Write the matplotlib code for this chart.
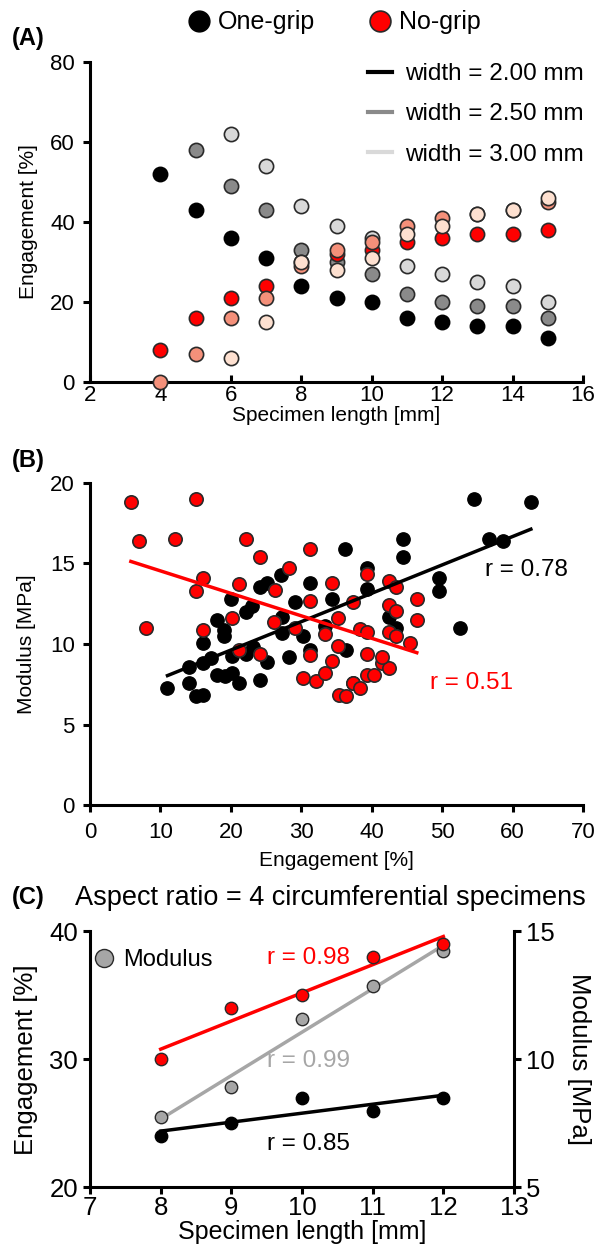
import numpy as np
import matplotlib
matplotlib.use("Agg")
import matplotlib.pyplot as plt
from matplotlib.lines import Line2D

plt.rcParams['font.family'] = ['Liberation Sans', 'DejaVu Sans']

# ---------------- Panel A: engagement vs specimen length ----------------
length_a = [4, 5, 6, 7, 8, 9, 10, 11, 12, 13, 14, 15]
nan = np.nan
one_grip_w200 = [52, 43, 36, 31, 24, 21, 20, 16, 15, 14, 14, 11]
one_grip_w250 = [nan, 58, 49, 43, 33, 30, 27, 22, 20, 19, 19, 16]
one_grip_w300 = [nan, nan, 62, 54, 44, 39, 36, 29, 27, 25, 24, 20]
no_grip_w200 = [8, 16, 21, 24, 30, 32, 33, 35, 36, 37, 37, 38]
no_grip_w250 = [0, 7, 16, 21, 29, 33, 35, 39, 41, 42, 43, 45]
no_grip_w300 = [nan, nan, 6, 15, 30, 28, 31, 37, 39, 42, 43, 46]
width_labels = ["width = 2.00 mm", "width = 2.50 mm", "width = 3.00 mm"]

# ---------------- Panel B: modulus vs engagement ----------------
one_grip_eng = [11.0, 14.1, 14.1, 15.05, 16.1, 16.0, 17.2, 16.05, 18.0, 19.2,
                20.1, 21.1, 24.1, 20.1, 22.1, 23.1, 25.1, 28.2, 18.1, 19.0,
                19.0, 20.0, 22.1, 23.05, 24.1, 25.1, 27.1, 27.3, 27.2, 29.1,
                30.3, 31.2, 34.3, 33.3, 36.2, 31.3, 36.4, 39.3, 39.3, 44.4,
                44.4, 49.5, 49.5, 42.4, 43.4, 52.6, 54.5, 56.6, 58.6, 62.6,
                37.3]
one_grip_mod = [7.25, 8.55, 7.6, 6.8, 6.85, 8.8, 9.1, 10.05, 8.05, 8.0,
                8.2, 7.6, 7.75, 9.25, 9.4, 9.8, 8.9, 9.2, 11.5, 10.9,
                10.5, 12.8, 12.0, 12.35, 13.55, 13.8, 14.3, 11.7, 10.7, 12.6,
                10.5, 13.8, 12.8, 11.1, 15.9, 9.6, 9.6, 14.7, 13.4, 16.5,
                15.4, 14.1, 13.3, 11.7, 11.0, 11.0, 19.0, 16.5, 16.4, 18.8,
                7.6]
no_grip_eng = [5.8, 15.0, 6.9, 12.0, 22.1, 24.1, 31.2, 28.2, 16.05, 15.0,
               21.1, 26.2, 34.3, 31.2, 8.0, 20.1, 26.1, 16.05, 33.3, 35.2,
               29.1, 35.2, 21.1, 24.1, 31.25, 30.2, 32.1, 33.3, 34.3, 35.3,
               36.3, 37.3, 38.35, 39.3, 40.3, 41.4, 42.4, 41.4, 39.3, 45.45,
               42.4, 43.4, 38.35, 39.3, 46.4, 42.4, 43.4, 46.4, 37.3, 42.4,
               43.4, 39.3]
no_grip_mod = [18.8, 19.0, 16.4, 16.5, 16.5, 15.4, 15.9, 14.7, 14.1, 13.3,
               13.75, 13.35, 13.8, 12.7, 11.0, 11.6, 11.35, 10.9, 10.6, 11.6,
               11.0, 9.85, 9.6, 9.4, 9.3, 7.9, 7.7, 8.2, 8.95, 6.85,
               6.8, 7.6, 7.25, 8.05, 8.05, 8.8, 8.5, 9.2, 9.4, 10.05,
               10.75, 10.5, 10.95, 10.75, 11.5, 12.4, 12.05, 12.8, 12.6, 13.9,
               13.55, 14.35]
r_one_grip_b = "r = 0.78"
r_no_grip_b = "r = 0.51"

# ---------------- Panel C: aspect ratio = 4 specimens ----------------
length_c = [8, 9, 10, 11, 12]
eng_one_grip_c = [24, 25, 27, 26, 27]
eng_no_grip_c = [30, 34, 35, 38, 39]
modulus_c = [7.74, 8.91, 11.57, 12.85, 14.25]
r_labels_c = ["r = 0.98", "r = 0.99", "r = 0.85"]

RED = "#ff0000"
EDGE = "#2a2a2a"
GREY_D = "#8a8a8a"
GREY_L = "#d9d9d9"
SALMON = "#f4907a"
PEACH = "#fde0d0"
GREY_M = "#a6a6a6"


def style_axes(ax, fs, right=False):
    ax.spines['top'].set_visible(False)
    ax.spines['right'].set_visible(right)
    for s in ['left', 'bottom', 'right']:
        ax.spines[s].set_linewidth(2.2)
    ax.tick_params(width=2.2, length=5, labelsize=fs, direction='out')


fig = plt.figure(figsize=(6.03, 12.46), dpi=100)

# ---- Panel A ----
axA = fig.add_axes([0.1493, 0.6934, 0.8175, 0.2568])
style_axes(axA, 16)
axA.tick_params(axis='x', direction='in', pad=2)
axA.tick_params(axis='y', pad=6)
series_a = [
    (one_grip_w200, "black", "black"),
    (one_grip_w250, GREY_D, EDGE),
    (one_grip_w300, GREY_L, EDGE),
    (no_grip_w200, RED, EDGE),
    (no_grip_w250, SALMON, EDGE),
    (no_grip_w300, PEACH, EDGE),
]
for z, (vals, fc, ec) in enumerate(series_a):
    axA.scatter(length_a, vals, s=105, c=fc, edgecolors=ec, linewidths=1.2,
                zorder=3 + z, clip_on=False)
axA.set_xlim(2, 16)
axA.set_ylim(0, 80)
axA.set_xticks(range(2, 17, 2))
axA.set_yticks(range(0, 81, 20))
axA.set_xlabel("Specimen length [mm]", fontsize=15, labelpad=0)
axA.set_ylabel("Engagement [%]", fontsize=15, labelpad=9)
width_handles = [Line2D([], [], color=c, lw=3) for c in ["black", GREY_D, GREY_L]]
axA.legend(width_handles, width_labels, loc="upper right",
           bbox_to_anchor=(1.045, 1.065), frameon=False, fontsize=17.5,
           handlelength=1.0, handletextpad=0.5, labelspacing=0.75)

# grip-type legend across the top
grip_handles = [
    Line2D([], [], ls="none", marker="o", ms=15, mfc="black", mec="black"),
    Line2D([], [], ls="none", marker="o", ms=15, mfc=RED, mec=EDGE, mew=1.2),
]
fig.legend(grip_handles, ["One-grip", "No-grip"], loc="center",
           bbox_to_anchor=(0.553, 0.982), ncol=2, frameon=False, fontsize=18,
           handlelength=1.0, handletextpad=0.25, columnspacing=2.1)
fig.text(0.02, 0.9695, "(A)", fontsize=17, fontweight="bold", va="center")

# ---- Panel B ----
axB = fig.add_axes([0.1493, 0.3539, 0.8175, 0.2585])
style_axes(axB, 16)
axB.tick_params(axis='x', pad=7)
axB.tick_params(axis='y', pad=6)
axB.scatter(one_grip_eng, one_grip_mod, s=92, c="black", edgecolors="black",
            linewidths=1.0, zorder=3)
axB.scatter(no_grip_eng, no_grip_mod, s=92, c=RED, edgecolors=EDGE,
            linewidths=1.2, zorder=4)
for xs, ys, col in [(one_grip_eng, one_grip_mod, "black"),
                    (no_grip_eng, no_grip_mod, RED)]:
    k, b = np.polyfit(xs, ys, 1)
    xx = np.array([min(xs), max(xs)])
    axB.plot(xx, k * xx + b, color=col, lw=2.5, zorder=5)
axB.text(56.1, 14.6, r_one_grip_b, fontsize=17.5, color="black", va="center")
axB.text(48.3, 7.6, r_no_grip_b, fontsize=17.5, color=RED, va="center")
axB.set_xlim(0, 70)
axB.set_ylim(0, 20)
axB.set_xticks(range(0, 71, 10))
axB.set_yticks(range(0, 21, 5))
axB.set_xlabel("Engagement [%]", fontsize=15, labelpad=6)
axB.set_ylabel("Modulus [MPa]", fontsize=15, labelpad=10)
fig.text(0.02, 0.6308, "(B)", fontsize=17, fontweight="bold", va="center")

# ---- Panel C ----
axC = fig.add_axes([0.1493, 0.0470, 0.7031, 0.2055])
style_axes(axC, 18.5, right=False)
axC.tick_params(axis='x', pad=1)
axC2 = axC.twinx()
style_axes(axC2, 18.5, right=True)
axC2.spines['left'].set_visible(False)
axC2.spines['bottom'].set_visible(False)

xc = np.array(length_c, dtype=float)
for vals, fc, ec, ax, lc in [
    (eng_one_grip_c, "black", "black", axC, "black"),
    (eng_no_grip_c, RED, EDGE, axC, RED),
    (modulus_c, GREY_M, EDGE, axC2, GREY_M),
]:
    k, b = np.polyfit(xc, vals, 1)
    ax.plot(xc, k * xc + b, color=lc, lw=2.5, zorder=2)
    ax.scatter(xc, vals, s=80, c=fc, edgecolors=ec, linewidths=1.0, zorder=3)

axC.set_zorder(axC2.get_zorder() + 1)
axC.patch.set_visible(False)
axC.set_xlim(7, 13)
axC.set_ylim(20, 40)
axC.set_xticks(range(7, 14))
axC.set_yticks([20, 30, 40])
axC2.set_ylim(5, 15)
axC2.set_yticks([5, 10, 15])
axC.set_xlabel("Specimen length [mm]", fontsize=18, labelpad=0)
axC.set_ylabel("Engagement [%]", fontsize=18.5, labelpad=8)
axC2.set_ylabel("Modulus [MPa]", fontsize=18.5, rotation=270, labelpad=26)

axC.text(9.5, 37.9, r_labels_c[0], fontsize=17.5, color=RED, va="center")
axC.text(9.5, 29.9, r_labels_c[1], fontsize=17.5, color=GREY_M, va="center")
axC.text(9.5, 23.4, r_labels_c[2], fontsize=17.5, color="black", va="center")

mod_handle = [Line2D([], [], ls="none", marker="o", ms=13, mfc=GREY_M,
                     mec=EDGE, mew=1.0)]
axC.legend(mod_handle, ["Modulus"], loc="upper left",
           bbox_to_anchor=(-0.045, 1.015), frameon=False, fontsize=17,
           handlelength=1.0, handletextpad=0.3)

fig.text(0.02, 0.2793, "(C)", fontsize=17, fontweight="bold", va="center")
fig.text(0.125, 0.2793, "Aspect ratio = 4 circumferential specimens",
         fontsize=19.5, va="center")

fig.savefig("out.png", dpi=100)
